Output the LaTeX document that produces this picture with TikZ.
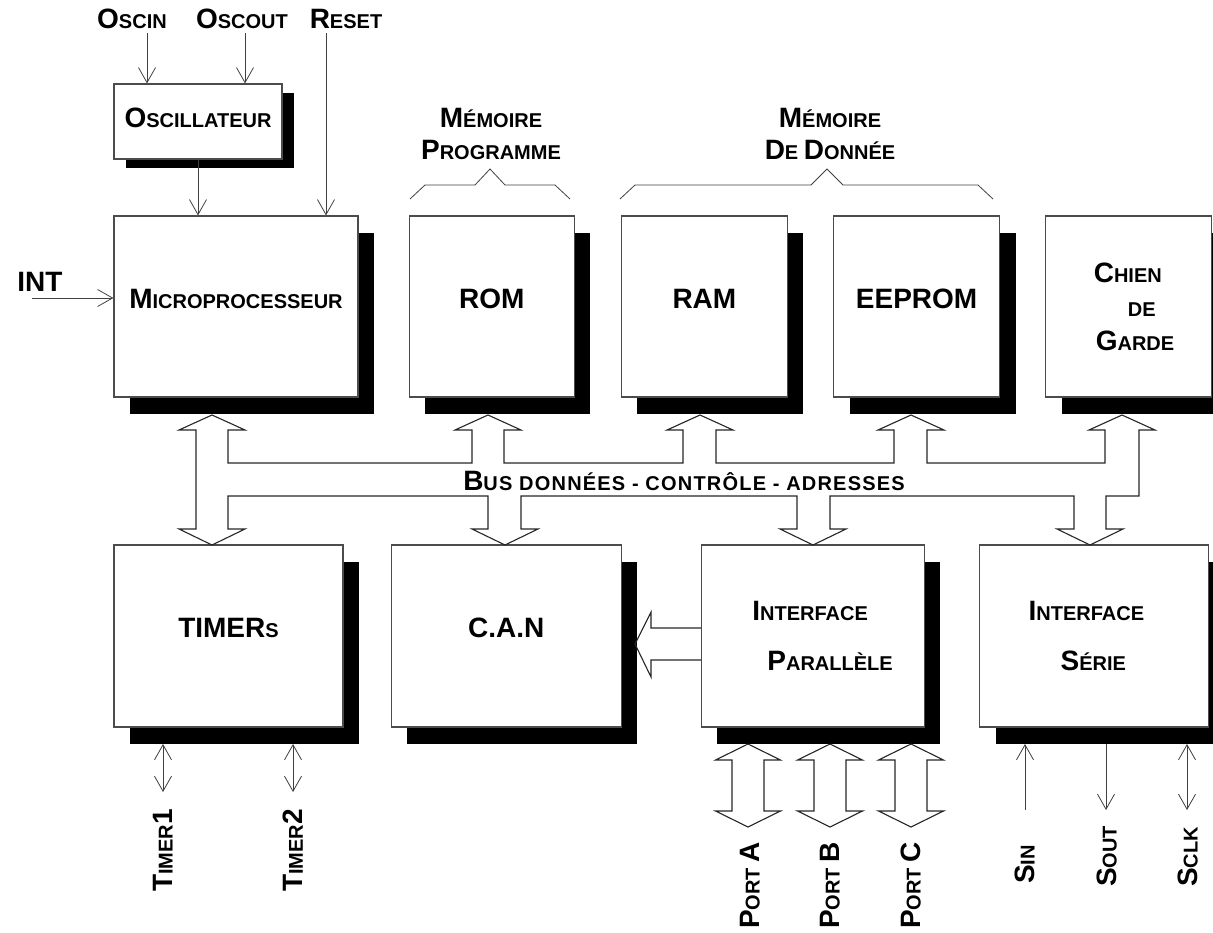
\documentclass[tikz,border=0pt]{standalone}
\usepackage{fontspec}
\setmainfont{Liberation Sans}
\usetikzlibrary{arrows.meta,positioning,shadows}
% petites capitales a la main : initiale en grand, suite en petit
\newcommand{\pc}[2]{{\fontsize{28}{28}\selectfont #1}{\fontsize{20}{20}\selectfont #2}}
\newcommand{\gc}[1]{{\fontsize{28}{28}\selectfont #1}}

\begin{document}
\begin{tikzpicture}[x=1pt,y=-1pt,>={Straight Barb[length=15pt,width=17pt]},
  base/.style={draw=black!70,line width=1.2pt,fill=white,inner sep=0pt,font=\bfseries\fontsize{20}{34}\selectfont},
  bloc/.style={base,minimum height=181pt,drop shadow={shadow xshift=16pt,shadow yshift=-17pt,opacity=1,fill=black}},
  haut/.style={text depth=16pt},
  lbl/.style={inner sep=0pt,font=\bfseries\fontsize{20}{32}\selectfont},
  fl/.style={->,line width=0.8pt,black!75},
  fl2/.style={<->,line width=0.8pt,black!75},
  bus/.style={line width=1.1pt,black!85,line join=miter}]
\useasboundingbox (0,0) rectangle (1213,932);
% blocs du haut
\node[base,minimum width=168pt,minimum height=75pt,text depth=8pt,
  drop shadow={shadow xshift=12pt,shadow yshift=-9pt,opacity=1,fill=black}] (osc) at (198,121.5) {\pc{O}{SCILLATEUR}};
\node[bloc,haut,minimum width=244pt] (micro) at (236,306.5) {\pc{M}{ICROPROCESSEUR}};
\node[bloc,haut,minimum width=165pt,right=50pt of micro] (rom) {\gc{ROM}};
\node[bloc,haut,minimum width=166pt,right=46pt of rom] (ram) {\gc{RAM}};
\node[bloc,haut,minimum width=166pt,right=45pt of ram] (eeprom) {\gc{EEPROM}};
\node[bloc,text width=166pt,align=left,right=45pt of eeprom] (chien)
  {\hspace*{48pt}\pc{C}{HIEN}\\\hspace*{82pt}DE\\\hspace*{50pt}\pc{G}{ARDE}};
% blocs du bas
\node[bloc,haut,minimum width=229pt,minimum height=182pt] (timers) at (228.5,636) {\gc{TIMER}S};
\node[bloc,haut,minimum width=230pt,minimum height=182pt,right=47pt of timers] (can) {\gc{C.A.N}};
\node[bloc,minimum height=182pt,text width=223pt,align=left,font=\bfseries\fontsize{20}{50}\selectfont,right=79pt of can] (par)
  {\hspace*{51pt}\pc{I}{NTERFACE}\\\hspace*{66pt}\pc{P}{ARALLÈLE}};
\node[bloc,minimum height=182pt,text width=229pt,align=left,font=\bfseries\fontsize{20}{50}\selectfont,right=54pt of par] (serie)
  {\hspace*{49pt}\pc{I}{NTERFACE}\\\hspace*{81pt}\pc{S}{ÉRIE}};
% etiquettes
\node[lbl,anchor=base] (oscin) at (132,28) {\pc{O}{SCIN}};
\node[lbl,anchor=base] (oscout) at (242,28) {\pc{O}{SCOUT}};
\node[lbl,anchor=base] (reset) at (346,28) {\pc{R}{ESET}};
\node[lbl,anchor=base] (int) at (40,291) {\gc{INT}};
\node[lbl,align=center] (mprog) at (491,134) {\pc{M}{ÉMOIRE}\\\pc{P}{ROGRAMME}};
\node[lbl,align=center] (mdon) at (830,134) {\pc{M}{ÉMOIRE}\\\pc{D}{E }\pc{D}{ONNÉE}};
\node[lbl,anchor=base] (bus) at (684,490) {\addfontfeature{LetterSpace=6}\pc{B}{US DONNÉES - CONTRÔLE - ADRESSES}};
\node[lbl,rotate=90,anchor=west] (t1) at (163,892) {\pc{T}{IMER}\gc{1}};
\node[lbl,rotate=90,anchor=west] (t2) at (293,892) {\pc{T}{IMER}\gc{2}};
\node[lbl,rotate=90,anchor=east] (pa) at (750,842) {\pc{P}{ORT }\gc{A}};
\node[lbl,rotate=90,anchor=east] (pb) at (830,842) {\pc{P}{ORT }\gc{B}};
\node[lbl,rotate=90,anchor=east] (pcc) at (911,842) {\pc{P}{ORT }\gc{C}};
\node[lbl,rotate=90,anchor=west] (sin) at (1025,884) {\pc{S}{IN}};
\node[lbl,rotate=90,anchor=west] (sout) at (1107,887) {\pc{S}{OUT}};
\node[lbl,rotate=90,anchor=west] (sclk) at (1188,887) {\pc{S}{CLK}};
% accolades
\draw[line width=0.8pt,black!75] (410,199) -- (425,185) -- (475,185) -- (490,169) -- (505,185) -- (555,185) -- (570,199);
\draw[line width=0.8pt,black!75] (620,199) -- (635,185) -- (811,185) -- (827,169) -- (843,185) -- (978,185) -- (993,199);
% fleches simples
\coordinate (a1) at ([xshift=15pt,yshift=-5pt]oscin.south);
\coordinate (a2) at ([xshift=3pt,yshift=-5pt]oscout.south);
\coordinate (a3) at ([xshift=-20pt,yshift=-5pt]reset.south);
\coordinate (a4) at (32,298);
\draw[fl] (a1) -- (a1 |- osc.north);
\draw[fl] (a2) -- (a2 |- osc.north);
\draw[fl] (a3) -- (a3 |- micro.north);
\draw[fl] (osc.south) -- (osc.south |- micro.north);
\draw[fl] (a4) -- (a4 -| micro.west);
\coordinate (t1b) at (163,744);
\coordinate (t2b) at (293,744);
\draw[fl2] (t1b) -- ++(0,48);
\draw[fl2] (t2b) -- ++(0,48);
\coordinate (sin0) at (1025,810);
\coordinate (sout0) at (1106,744);
\coordinate (sclk0) at (1187,744);
\draw[fl] (sin0) -- ++(0,-66);
\draw[fl] (sout0) -- ++(0,66);
\draw[fl2] (sclk0) -- ++(0,66);
% bus donnees - controle - adresses
\draw[bus] (228,463) -- (228,430) -- (245,430) -- (212,415) -- (179,430) -- (196,430)
  -- (196,529) -- (179,529) -- (212,545) -- (245,529) -- (228,529) -- (228,496)
  -- (488,496) -- (488,529) -- (472,529) -- (505,545) -- (538,529) -- (521,529) -- (521,496)
  -- (797,496) -- (797,529) -- (780,529) -- (813,545) -- (846,529) -- (830,529) -- (830,496)
  -- (1074,496) -- (1074,529) -- (1057,529) -- (1090,545) -- (1123,529) -- (1106,529) -- (1106,496)
  -- (1139,496) -- (1139,430) -- (1155,430) -- (1122,415) -- (1089,430) -- (1105,430) -- (1105,463)
  -- (927,463) -- (927,430) -- (944,430) -- (911,415) -- (878,430) -- (894,430) -- (894,463)
  -- (716,463) -- (716,430) -- (733,430) -- (700,415) -- (667,430) -- (683,430) -- (683,463)
  -- (504,463) -- (504,430) -- (521,430) -- (488,415) -- (455,430) -- (472,430) -- (472,463)
  -- cycle;
\draw[bus] (par.west |- 0,628) -- (651,628) -- (651,612) -- (635,644) -- (651,677) -- (651,660) -- (par.west |- 0,660);
\foreach \c in {748,830,911}
  \draw[bus] ({\c-16},760) -- ({\c-32.5},760) -- (\c,744) -- ({\c+32.5},760) -- ({\c+16},760) -- ({\c+16},811)
    -- ({\c+32.5},811) -- (\c,827) -- ({\c-32.5},811) -- ({\c-16},811) -- cycle;
\end{tikzpicture}
\end{document}
